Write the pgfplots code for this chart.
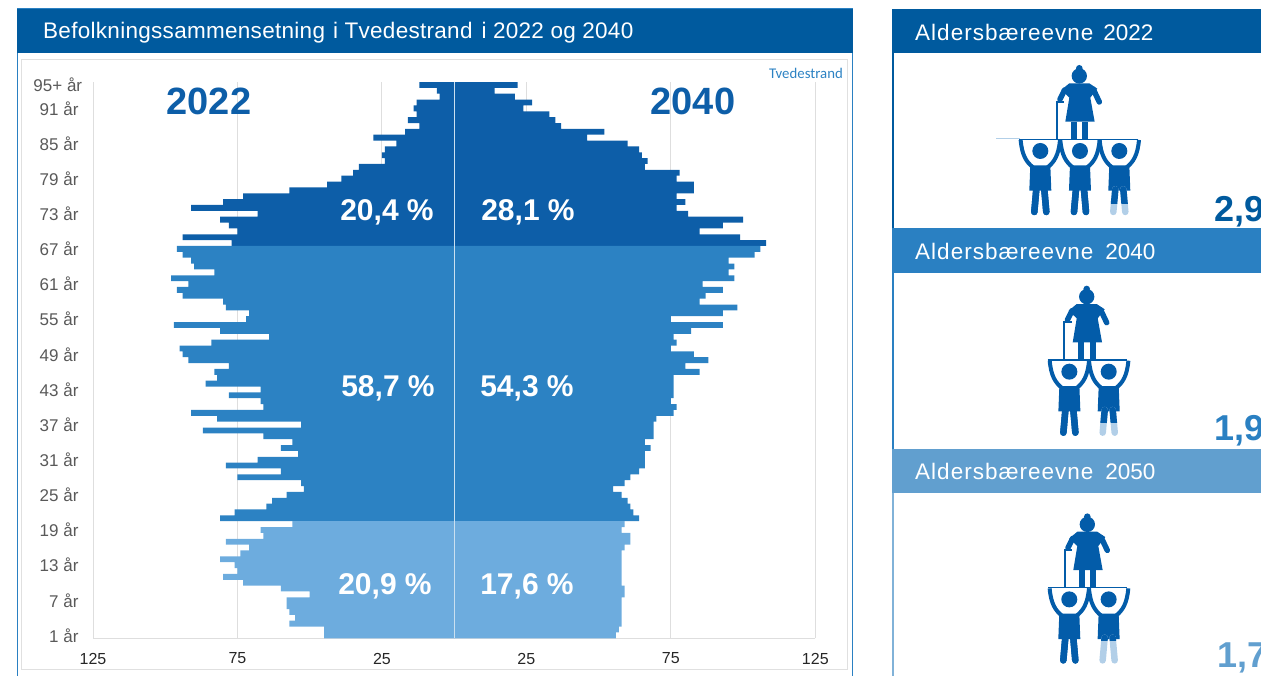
\documentclass[border=0pt]{standalone}
\usepackage{fontspec}
\usepackage{pgfplots}
\usepackage{pgfplotstable}
\pgfplotsset{compat=1.18}
\setmainfont{Liberation Sans}
\newfontfamily\carlito{Carlito}
\newfontfamily\titlefont[LetterSpace=1.3]{Liberation Sans}
\newfontfamily\headfont[LetterSpace=4.5]{Liberation Sans}

\definecolor{head1}{HTML}{005A9E}
\definecolor{head2}{HTML}{2A80C2}
\definecolor{head3}{HTML}{619FCF}
\definecolor{bar1}{HTML}{0D5EA8}
\definecolor{bar2}{HTML}{2C82C3}
\definecolor{bar3}{HTML}{6DACDE}
\definecolor{icon}{HTML}{035CA9}
\definecolor{iconlight}{HTML}{B2CFE8}

\pgfplotstableread{
age y2022 y2040
95 12 22
94 6 14
93 5 21
92 13 27
91 14 24
90 13 33
89 16 35
88 12 37
87 17 52
86 28 46
85 20 60
84 24 64
83 25 65
82 24 67
81 33 66
80 35 78
79 39 77
78 44 83
77 57 83
76 73 77
75 80 80
74 91 77
73 68 81
72 81 100
71 78 93
70 75 85
69 94 99
68 77 108
}\oldtable

\pgfplotstableread{
age y2022 y2040
67 96 106
66 94 104
65 91 95
64 90 97
63 83 95
62 98 97
61 92 86
60 96 93
59 94 87
58 80 85
57 79 98
56 71 93
55 72 75
54 97 93
53 81 82
52 64 76
51 84 77
50 95 75
49 94 83
48 92 88
47 78 80
46 83 85
45 82 76
44 86 76
43 67 76
42 78 76
41 67 75
40 66 77
39 91 76
38 82 70
37 53 69
36 87 69
35 66 69
34 56 66
33 60 68
32 54 66
31 68 66
30 79 66
29 60 64
28 75 61
27 53 59
26 52 55
25 58 58
24 63 60
23 65 61
22 76 62
21 81 64
}\worktable

\pgfplotstableread{
age y2022 y2040
20 56 59
19 67 58
18 66 61
17 79 61
16 71 59
15 74 58
14 81 58
13 76 58
12 75 58
11 80 58
10 73 58
9 60 59
8 50 59
7 58 58
6 58 58
5 57 58
4 55 58
3 57 58
2 45 57
1 45 56
}\youngtable

% pictograms, sizes in zoomed pixels (3 per picture pixel), origin on the shelf
\newcommand{\elder}[3]{%
  \begin{scope}[shift={(#1,#2)},scale=1/3]
    \fill[icon] (0,-190) circle (23);
    \fill[icon] (0,-213) circle (10);
    \fill[icon] (-30,-168) -- (30,-168) -- (54,-152) -- (33,-125) -- (46,-53) -- (-42,-53) -- (-30,-125) -- (-54,-148) -- cycle;
    \draw[icon,line width=5.5pt,line cap=round] (42,-150) -- (60,-112);
    \draw[icon,line width=5.5pt,line cap=round] (-44,-148) -- (-58,-120);
    \draw[icon,line width=2pt] (-68,0) -- (-68,-113) -- (-45,-113);
    \fill[icon] (-25,-53) rectangle (-8,0);
    \fill[icon] (9,-53) rectangle (27,0);
    \draw[icon,line width=1.5pt] #3;
  \end{scope}}
\newcommand{\carrier}[5]{% x, y, dx, light start, leg colour
  \begin{scope}[shift={(#1,#2)},scale=1/3]
    \fill[icon] (#3,35) circle (24);
    \draw[icon,line width=4pt] (#3-59,2) .. controls (#3-55,48) and (#3-42,68) .. (#3-22,84);
    \draw[icon,line width=4pt] (#3+59,2) .. controls (#3+55,48) and (#3+42,68) .. (#3+22,84);
    \fill[icon] (#3-30,78) -- (#3+30,78) -- (#3+33,154) -- (#3-33,154) -- cycle;
    \draw[#5,line width=6.5pt,line cap=round] (#3-12,150) -- (#3-18,218);
    \draw[#5,line width=6.5pt,line cap=round] (#3+12,150) -- (#3+18,218);
    \begin{scope}
      \clip (#3-60,140) rectangle (#3+60,#4);
      \draw[icon,line width=6.5pt,line cap=round] (#3-12,150) -- (#3-18,218);
      \draw[icon,line width=6.5pt,line cap=round] (#3+12,150) -- (#3+18,218);
    \end{scope}
  \end{scope}}

\begin{document}
\begin{tikzpicture}[x=1pt,y=-1pt]
  \path[use as bounding box,clip] (0,0) rectangle (1261,675);

  % left panel
  \draw[head2,line width=1.6pt] (17.5,9) rectangle (852.5,690);
  \fill[head1] (16.7,9) rectangle (853.3,53);
  \draw[black!12,line width=1pt] (21,59) rectangle (847,669);
  \node[anchor=west,text=white,inner sep=0pt,font=\titlefont\fontsize{22.5}{26}\selectfont] at (43,32.5)
    {Befolkningssammensetning\hspace{8pt}i Tvedestrand\hspace{9pt}i 2022 og 2040};

  % right panel
  \draw[head1,line width=1.6pt] (893,9) -- (893,228);
  \draw[head2,line width=1.6pt] (893,228) -- (893,449);
  \draw[head3!80!white,line width=1.6pt] (893,449) -- (893,690);
  \fill[head1] (892,9) rectangle (1261,53);
  \fill[head2] (892,228) rectangle (1261,273);
  \fill[head3] (892,448.5) rectangle (1261,493);
  \node[anchor=west,text=white,inner sep=0pt,font=\fontsize{22.5}{26}\selectfont] at (915,32) {{\headfont Aldersbæreevne}\hspace{10pt}2022};
  \node[anchor=west,text=white,inner sep=0pt,font=\fontsize{22.5}{26}\selectfont] at (915,251.5) {{\headfont Aldersbæreevne}\hspace{12pt}2040};
  \node[anchor=west,text=white,inner sep=0pt,font=\fontsize{22.5}{26}\selectfont] at (915,471) {{\headfont Aldersbæreevne}\hspace{12pt}2050};

  \begin{axis}[
      at={(93pt,-638.3pt)}, anchor=south west,
      scale only axis,
      width=722.3pt, height=556.3pt,
      xbar, bar shift=0pt, bar width=1,
      xmin=-125, xmax=125, ymin=0.5, ymax=95.5,
      xtick={-125,-75,-25,25,75,125},
      xticklabels={125,75,25,25,75,125},
      ytick={1,7,13,19,25,31,37,43,49,55,61,67,73,79,85,91,95},
      yticklabels={1 år,7 år,13 år,19 år,25 år,31 år,37 år,43 år,49 år,55 år,61 år,67 år,73 år,79 år,85 år,91 år,{95+ år\kern-3.7pt}},
      axis x line*=bottom, axis y line*=left,
      axis line style={draw=black!13,line width=1pt,-},
      xmajorgrids=true,
      grid style={draw=black!13,line width=1pt},
      major tick length=0pt,
      xticklabel style={font=\fontsize{16}{19}\selectfont,text=black!85,yshift=-11pt},
      yticklabel style={font=\fontsize{17}{20}\selectfont,text=black!65,xshift=-11pt},
    ]
    \addplot[fill=bar1,draw=none] table[x expr=-\thisrow{y2022},y=age] {\oldtable};
    \addplot[fill=bar1,draw=none] table[x=y2040,y=age] {\oldtable};
    \addplot[fill=bar2,draw=none] table[x expr=-\thisrow{y2022},y=age] {\worktable};
    \addplot[fill=bar2,draw=none] table[x=y2040,y=age] {\worktable};
    \addplot[fill=bar3,draw=none] table[x expr=-\thisrow{y2022},y=age] {\youngtable};
    \addplot[fill=bar3,draw=none] table[x=y2040,y=age] {\youngtable};
    \addplot[sharp plot,draw=white!75!bar2,line width=1pt] coordinates {(0,0.5) (0,95.5)};
  \end{axis}

  % text over the chart
  \node[text=bar1,font=\fontsize{38}{44}\bfseries\selectfont] at (209,101) {2022};
  \node[text=bar1,font=\fontsize{38}{44}\bfseries\selectfont] at (693,101) {2040};
  \node[anchor=east,inner sep=0pt,text=bar2,font=\carlito\fontsize{14.8}{16}\selectfont] at (843,73) {Tvedestrand};
  \foreach \tx/\ty/\lab in {387/212/{20,4 \%},528/212/{28,1 \%},388/388/{58,7 \%},527/388/{54,3 \%},385/586/{20,9 \%},527/586/{17,6 \%}}
    \node[text=white,font=\fontsize{30}{35}\bfseries\selectfont] at (\tx,\ty) {\lab};

  % icons
  \draw[iconlight,line width=0.8pt] (996,138.5) -- (1020,138.5);
  \elder{1079.3}{139.3}{(-180,0) -- (176,0)}
  \carrier{1079.3}{139.3}{-117}{230}{icon}
  \carrier{1079.3}{139.3}{2}{230}{icon}
  \carrier{1079.3}{139.3}{120}{192}{iconlight}

  \elder{1086.7}{360}{(-117,0) -- (120,0)}
  \carrier{1086.7}{360}{-52}{230}{icon}
  \carrier{1086.7}{360}{66}{188}{iconlight}

  \elder{1087.3}{587.7}{(-117,0) -- (120,0)}
  \carrier{1087.3}{587.7}{-54}{230}{icon}
  \carrier{1087.3}{587.7}{64}{157}{iconlight}

  \node[anchor=west,inner sep=0pt,text=head1,font=\fontsize{36}{42}\bfseries\selectfont] at (1214,212) {2,9};
  \node[anchor=west,inner sep=0pt,text=head2,font=\fontsize{36}{42}\bfseries\selectfont] at (1214,431) {1,9};
  \node[anchor=west,inner sep=0pt,text=head3,font=\fontsize{36}{42}\bfseries\selectfont] at (1217,658) {1,7};
\end{tikzpicture}
\end{document}
